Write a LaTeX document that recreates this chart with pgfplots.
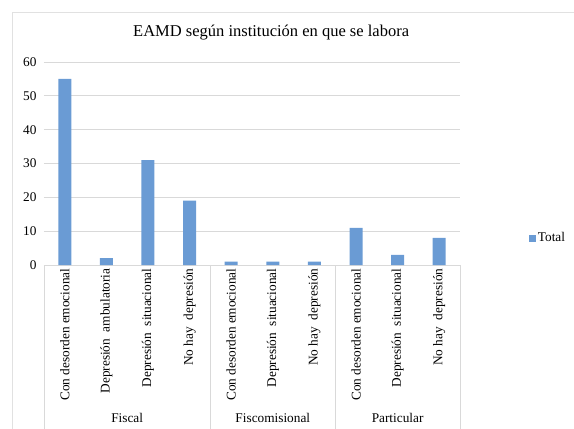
\documentclass[border=0pt]{standalone}
\usepackage{pgfplots}
\pgfplotsset{compat=1.18}
\usepackage{fontspec}
\setmainfont{Liberation Serif}
\definecolor{barblue}{RGB}{106,155,212}
\definecolor{gridgray}{RGB}{217,217,217}
\definecolor{framegray}{RGB}{225,225,225}

\begin{document}
\begin{tikzpicture}
\useasboundingbox (-44pt,-164pt) rectangle (530pt,265pt);
% outer chart frame (cropped at right and bottom)
\draw[framegray] (-32pt,-170pt) -- (-32pt,253pt) -- (540pt,253pt);
\begin{axis}[
  at={(0pt,0pt)}, anchor=south west,
  scale only axis,
  width=416pt, height=203pt,
  xmin=-0.5, xmax=9.5,
  ymin=0, ymax=60,
  ytick={0,10,20,30,40,50,60},
  xtick={0,1,2,3,4,5,6,7,8,9},
  xticklabels={Con desorden emocional, Depresión\ \ ambulatoria, Depresión\ \ situacional, No hay\ \ depresión,
               Con desorden emocional, Depresión\ \ situacional, No hay\ \ depresión,
               Con desorden emocional, Depresión\ \ situacional, No hay\ \ depresión},
  xticklabel style={rotate=90, anchor=east, font=\fontsize{13.3}{15}\selectfont},
  yticklabel style={font=\fontsize{13.3}{15}\selectfont, xshift=-4pt},
  /pgf/number format/assume math mode=true,
  major tick length=0pt,
  extra x ticks={-0.5,3.5,6.5,9.5},
  extra x tick labels={},
  extra x tick style={major tick length=170pt, tick align=outside, tick style={gridgray, line width=0.8pt}, grid=none},
  ymajorgrids, grid style={gridgray, line width=0.8pt},
  axis lines*=left,
  y axis line style={draw=none},
  x axis line style={gridgray, line width=0.8pt},
  ybar, bar width=13pt,
  legend style={at={(1.158,0.133)}, anchor=west, draw=none, fill=none,
    font=\fontsize{13.3}{15}\selectfont},
  legend image code/.code={\fill[#1] (0pt,-3.5pt) rectangle (7pt,3.5pt);},
  clip=false,
]
\addplot[fill=barblue, draw=none] coordinates {
  (0,55) (1,2) (2,31) (3,19) (4,1) (5,1) (6,1) (7,11) (8,3) (9,8)
};
\addlegendentry{Total}
\node[font=\fontsize{13.3}{15}\selectfont] at (axis cs:1.5,0) [yshift=-153pt] {Fiscal};
\node[font=\fontsize{13.3}{15}\selectfont] at (axis cs:5,0) [yshift=-153pt] {Fiscomisional};
\node[font=\fontsize{13.3}{15}\selectfont] at (axis cs:8,0) [yshift=-153pt] {Particular};
\node[font=\fontsize{16.5}{19}\selectfont] at (rel axis cs:0.546,1.143) {EAMD según institución en que se labora};
\end{axis}
\end{tikzpicture}
\end{document}
